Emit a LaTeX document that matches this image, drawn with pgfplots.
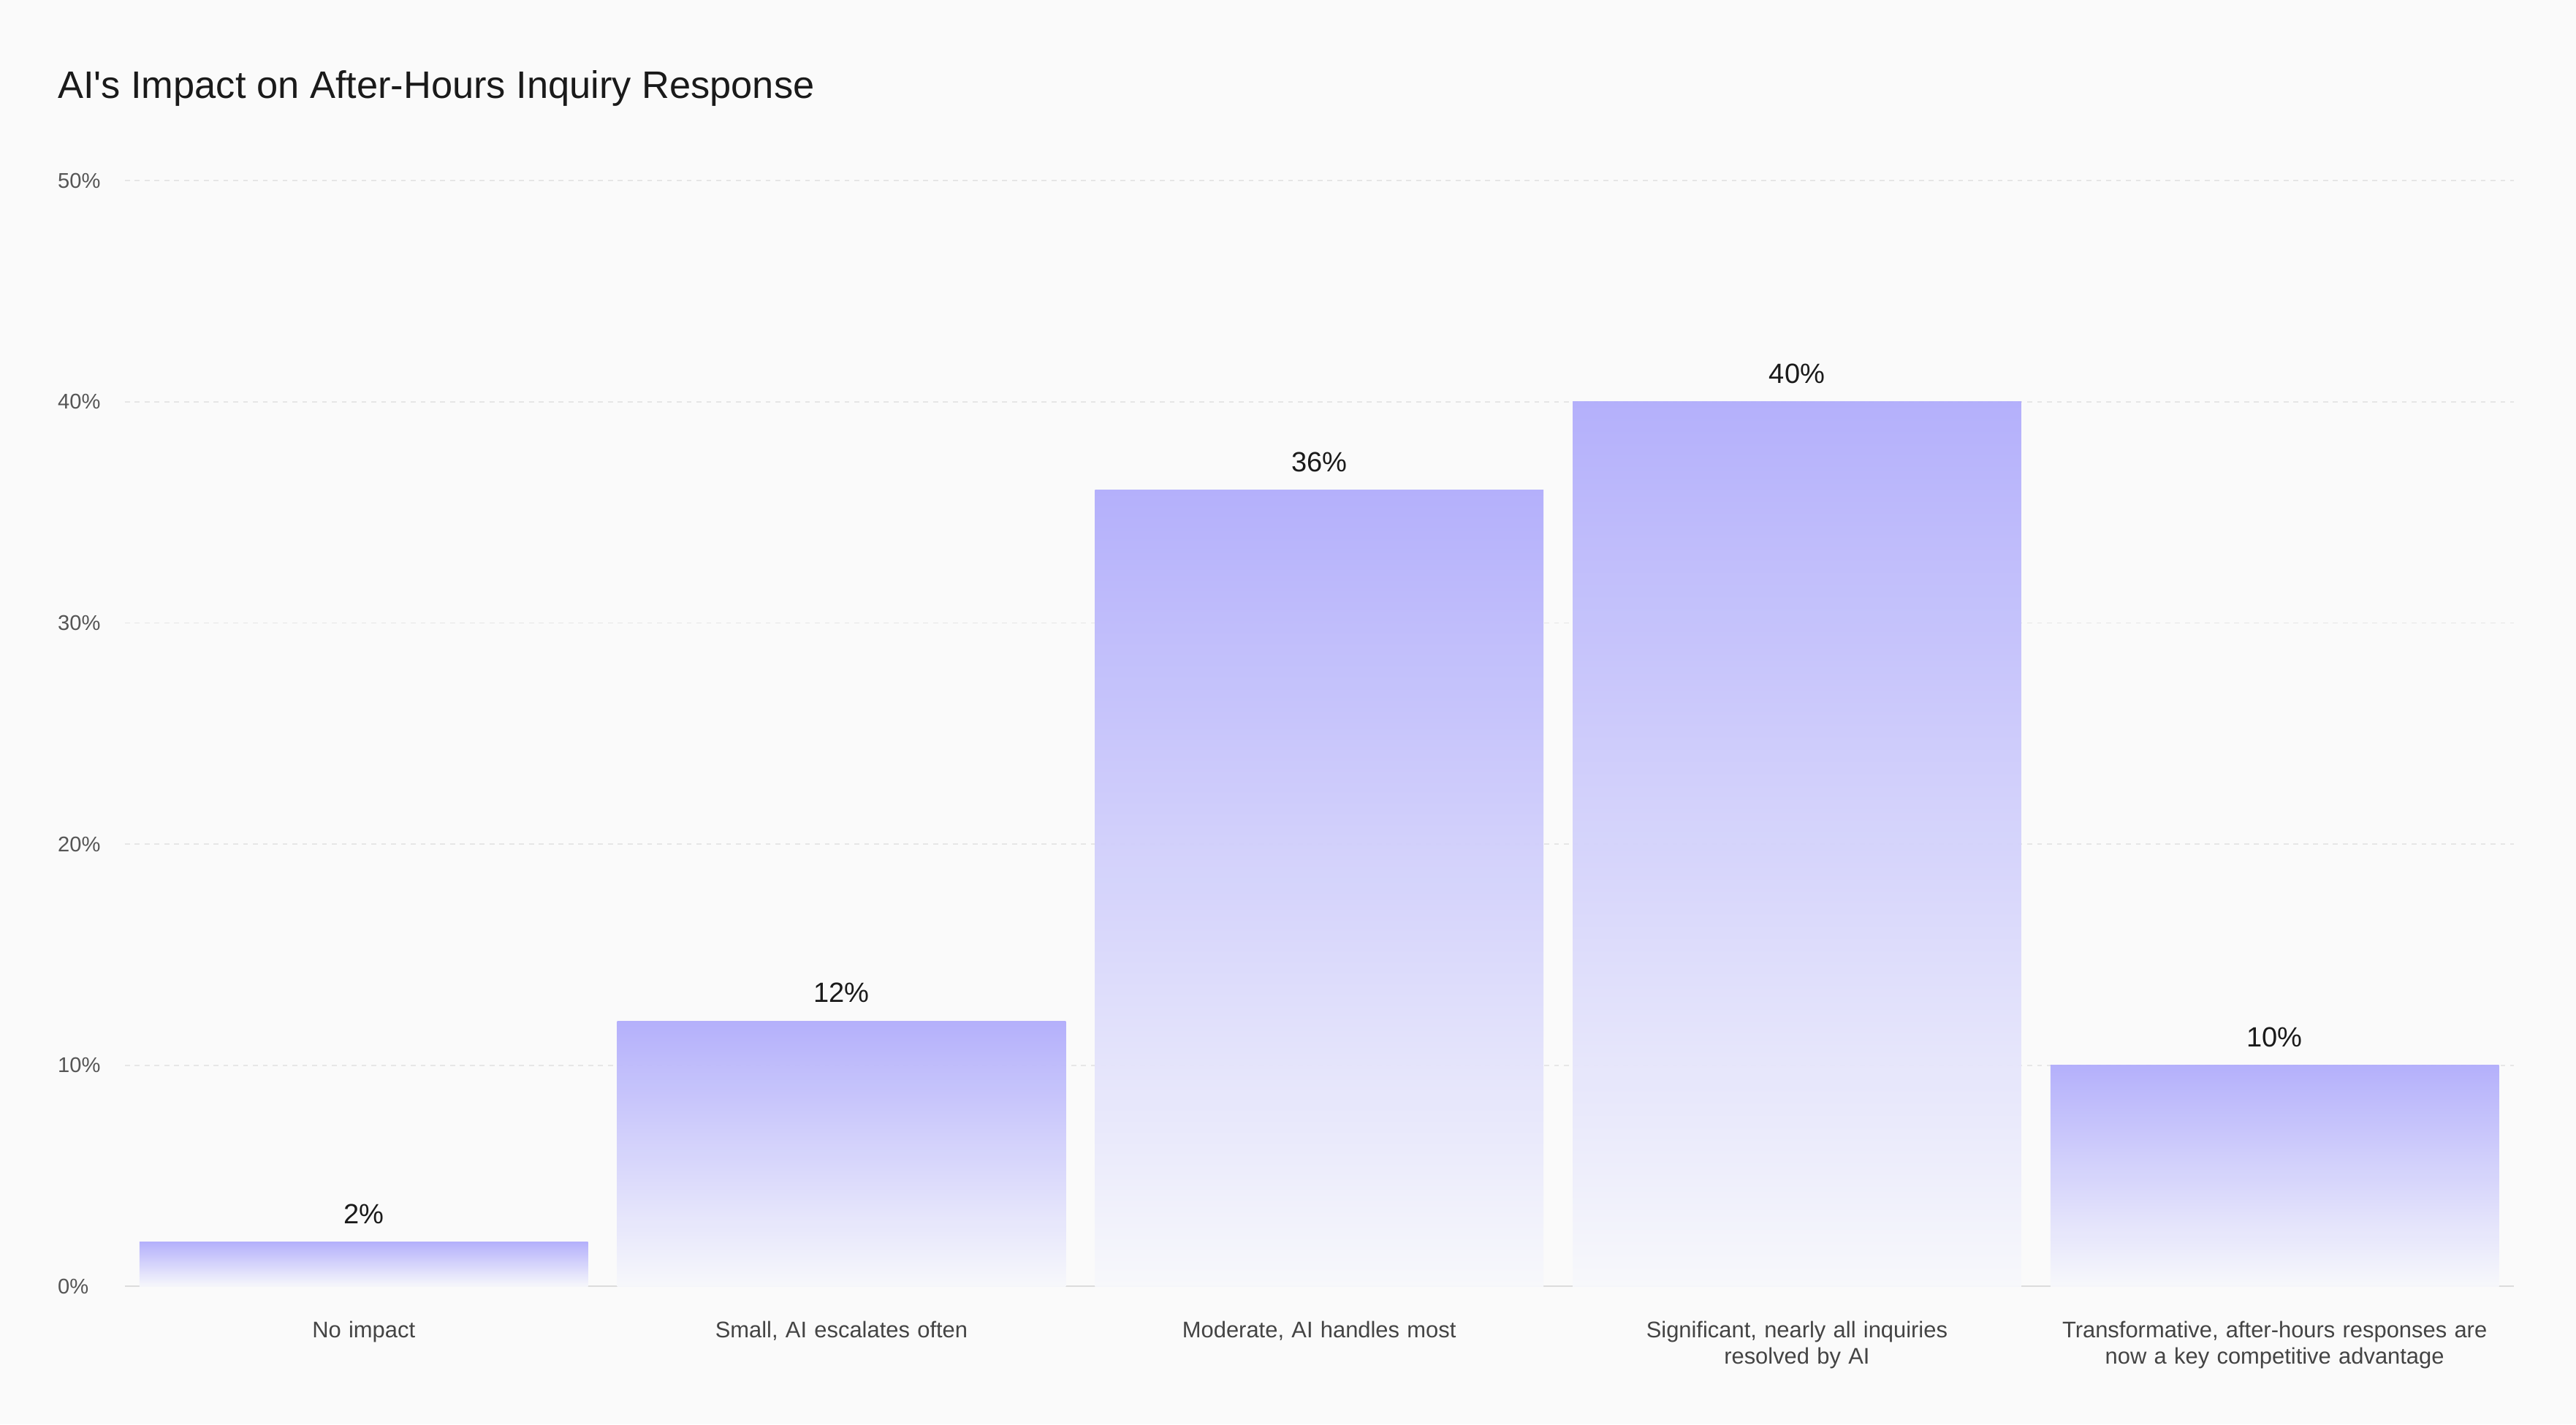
\documentclass[border=0pt]{standalone}
\usepackage{fontspec}
\setmainfont{Liberation Sans}
\usepackage{pgfplots}
\pgfplotsset{compat=1.18}
\definecolor{bg}{HTML}{FAFAFA}
\definecolor{bartop}{HTML}{B1ADFC}
\definecolor{barmid}{HTML}{D4DBFB}
\definecolor{barbot}{HTML}{F7F8FC}
\definecolor{gridc}{HTML}{E6E6E6}
\definecolor{axisc}{HTML}{DCDCDC}
\definecolor{tickc}{HTML}{555555}
\definecolor{catc}{HTML}{444444}
\definecolor{valc}{HTML}{1A1A1A}
\begin{document}
\begin{tikzpicture}
\fill[bg] (0,0) rectangle (1568bp,867bp);
\useasboundingbox (0,0) rectangle (1568bp,867bp);
\node[anchor=base west, inner sep=0, text=valc, font=\fontsize{23.4}{27}\selectfont] at (35bp,807bp) {AI\textquotesingle s Impact on After-Hours Inquiry Response};
\begin{axis}[
  at={(76bp,84bp)}, anchor=south west,
  scale only axis, width=1454bp, height=673bp,
  xmin=-0.5, xmax=4.5, ymin=0, ymax=50,
  axis x line*=bottom, axis y line*=left,
  x axis line style={draw=axisc, line width=1bp},
  y axis line style={draw=none},
  major tick length=0,
  xtick={0,1,2,3,4},
  xticklabels={No impact, {Small, AI escalates often}, {Moderate, AI handles most}, {Significant, nearly all inquiries\\resolved by AI}, {Transformative, after-hours responses are\\now a key competitive advantage}},
  xticklabel style={anchor=north, yshift=-21bp, inner sep=0, align=center, text width=300bp, text=catc, font=\fontsize{13.8}{16}\selectfont},
  ytick={0,10,20,30,40,50},
  yticklabel={\pgfmathprintnumber{\tick}\%},
  yticklabel style={anchor=west, inner sep=0, xshift=-41bp, text=tickc, font=\fontsize{13}{15}\selectfont},
  /pgf/number format/assume math mode=true,
  ymajorgrids,
  grid style={draw=gridc, line width=0.8bp, dash pattern=on 3bp off 3bp},
  bar width=273bp,
  ybar, bar shift=0pt,
  nodes near coords={\pgfmathprintnumber{\pgfplotspointmeta}\%},
  every node near coord/.append style={anchor=south, inner sep=0, yshift=11bp, text=valc, text opacity=1, font=\fontsize{17}{20}\selectfont},
  barstyle/.style={draw=none, fill opacity=0.95, top color=bartop, middle color=barmid, bottom color=barbot},
]
\addplot[barstyle] coordinates {(0,2)};
\addplot[barstyle] coordinates {(1,12)};
\addplot[barstyle] coordinates {(2,36)};
\addplot[barstyle] coordinates {(3,40)};
\addplot[barstyle] coordinates {(4,10)};
\end{axis}
\end{tikzpicture}
\end{document}
